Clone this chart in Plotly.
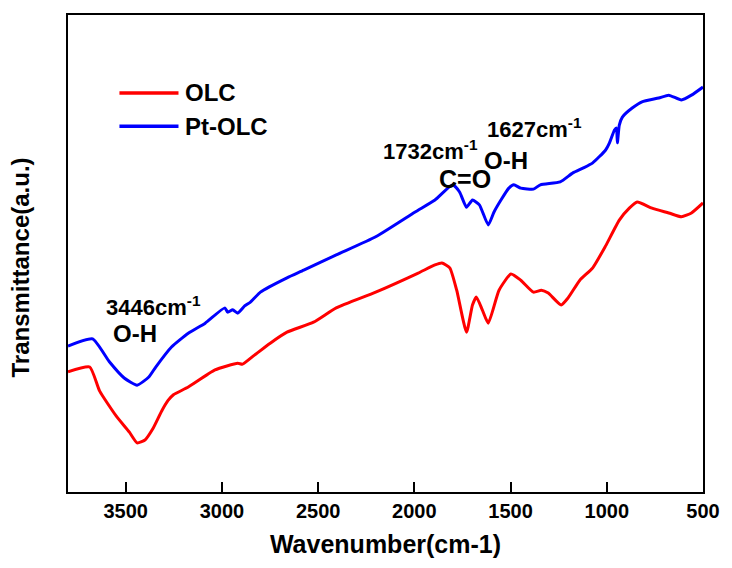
import plotly.graph_objects as go

# FTIR spectra (wavenumber in cm-1, transmittance in arbitrary units)
olc_wavenumber = [3800, 3687, 3636, 3549, 3482, 3441, 3400, 3360, 3313, 3280,
                  3252, 3175, 3036, 2918, 2893, 2831, 2749, 2662, 2524, 2406,
                  2201, 1980, 1893, 1857, 1816, 1780, 1729, 1698, 1678, 1647,
                  1616, 1560, 1498, 1447, 1381, 1340, 1304, 1237, 1201, 1140,
                  1073, 1006, 935, 883, 842, 765, 678, 612, 560, 500]
olc_transmittance = [25.2, 26.2, 21.2, 15.9, 12.6, 10.3, 10.9, 13.2, 17.0, 19.2,
                     20.4, 22.0, 25.6, 27.0, 26.8, 28.7, 31.2, 33.5, 35.6, 38.6,
                     41.9, 45.9, 47.6, 48.0, 47.0, 42.3, 33.5, 39.2, 40.9, 38.2,
                     35.4, 42.3, 45.7, 44.4, 41.9, 42.3, 41.7, 39.2, 40.7, 44.4,
                     47.0, 51.6, 57.0, 59.5, 60.8, 59.5, 58.5, 57.7, 58.5, 60.6]

pt_olc_wavenumber = [3800, 3672, 3585, 3508, 3441, 3380, 3344, 3262, 3175, 3087,
                     2985, 2970, 2944, 2918, 2882, 2852, 2800, 2662, 2575, 2406,
                     2201, 1996, 1893, 1801, 1765, 1729, 1698, 1662, 1616, 1586,
                     1550, 1509, 1483, 1447, 1381, 1345, 1242, 1176, 1124, 1073,
                     1006, 986, 960, 950, 945, 935, 919, 868, 817, 730,
                     678, 612, 560, 500]
pt_olc_transmittance = [30.6, 32.1, 27.3, 23.9, 22.4, 24.1, 26.2, 30.4, 33.3, 35.4,
                        38.6, 37.7, 38.2, 37.5, 39.0, 39.8, 41.9, 44.9, 46.5, 49.7,
                        53.5, 58.7, 61.2, 64.4, 62.9, 59.7, 61.2, 60.2, 56.0, 58.7,
                        61.2, 63.7, 64.4, 63.7, 63.5, 64.4, 65.0, 66.9, 67.9, 69.0,
                        71.7, 73.2, 75.9, 76.3, 73.2, 76.9, 78.6, 80.5, 81.8, 82.6,
                        83.2, 82.2, 83.2, 84.9]

tick_values = [3500, 3000, 2500, 2000, 1500, 1000, 500]
series_names = ["OLC", "Pt-OLC"]
series_colors = ["#ff0000", "#0000ff"]

FONT = "Arial, 'Liberation Sans', sans-serif"

fig = go.Figure()
fig.add_trace(go.Scatter(x=olc_wavenumber, y=olc_transmittance, mode="lines",
                         name=series_names[0],
                         line=dict(color=series_colors[0], width=3, shape="spline", smoothing=0.5)))
fig.add_trace(go.Scatter(x=pt_olc_wavenumber, y=pt_olc_transmittance, mode="lines",
                         name=series_names[1],
                         line=dict(color=series_colors[1], width=3, shape="spline", smoothing=0.5)))

# Hand-placed legend: coloured strokes with labels
legend_rows = [0.8365, 0.767]
for name, color, yy in zip(series_names, series_colors, legend_rows):
    fig.add_shape(type="line", xref="paper", yref="paper",
                  x0=0.081, x1=0.174, y0=yy, y1=yy,
                  line=dict(color=color, width=3.5))
    fig.add_annotation(xref="paper", yref="paper", x=0.183, y=yy, text=name,
                       showarrow=False, xanchor="left", yanchor="middle", borderpad=0,
                       font=dict(family=FONT, size=24, color="black", weight="bold"))

# Band assignments
band_labels = [
    dict(x=3610, y=39.0, text="3446cm<sup>-1</sup>", size=22, xanchor="left"),
    dict(x=3569, y=33.3, text="O-H", size=24, xanchor="left"),
    dict(x=1662, y=71.8, text="1732cm<sup>-1</sup>", size=22, xanchor="right"),
    dict(x=1739, y=65.6, text="C=O", size=25, xanchor="center"),
    dict(x=1643, y=69.4, text="O-H", size=24, xanchor="left"),
    dict(x=1630, y=76.4, text="1627cm<sup>-1</sup>", size=22, xanchor="left"),
]
for lab in band_labels:
    fig.add_annotation(x=lab["x"], y=lab["y"], text=lab["text"], showarrow=False,
                       xanchor=lab["xanchor"], yanchor="middle", borderpad=0,
                       font=dict(family=FONT, size=lab["size"], color="black", weight="bold"))

# Vertical axis title
fig.add_annotation(xref="paper", yref="paper", x=-0.0745, y=0.47,
                   text="Transmittance(a.u.)", textangle=-90, showarrow=False,
                   xanchor="center", yanchor="middle",
                   font=dict(family=FONT, size=24, color="black", weight="bold"))

fig.update_layout(
    width=732, height=568,
    margin=dict(l=68, r=20, t=15, b=76),
    paper_bgcolor="white", plot_bgcolor="white",
    showlegend=False,
    font=dict(family=FONT, color="black"),
)
fig.update_xaxes(
    range=[3800, 500], tickvals=tick_values, ticktext=[str(v) for v in tick_values],
    ticks="inside", ticklen=10, tickwidth=2, tickcolor="black",
    showline=True, linewidth=2, linecolor="black", mirror=True,
    showgrid=False, zeroline=False,
    tickfont=dict(family=FONT, size=20, color="black", weight="bold"),
    title=dict(text="Wavenumber(cm-1)", standoff=14,
               font=dict(family=FONT, size=25, color="black", weight="bold")),
)
fig.update_yaxes(
    range=[0, 100], showticklabels=False, ticks="",
    showline=True, linewidth=2, linecolor="black", mirror=True,
    showgrid=False, zeroline=False,
)

fig.write_html("out.html")
